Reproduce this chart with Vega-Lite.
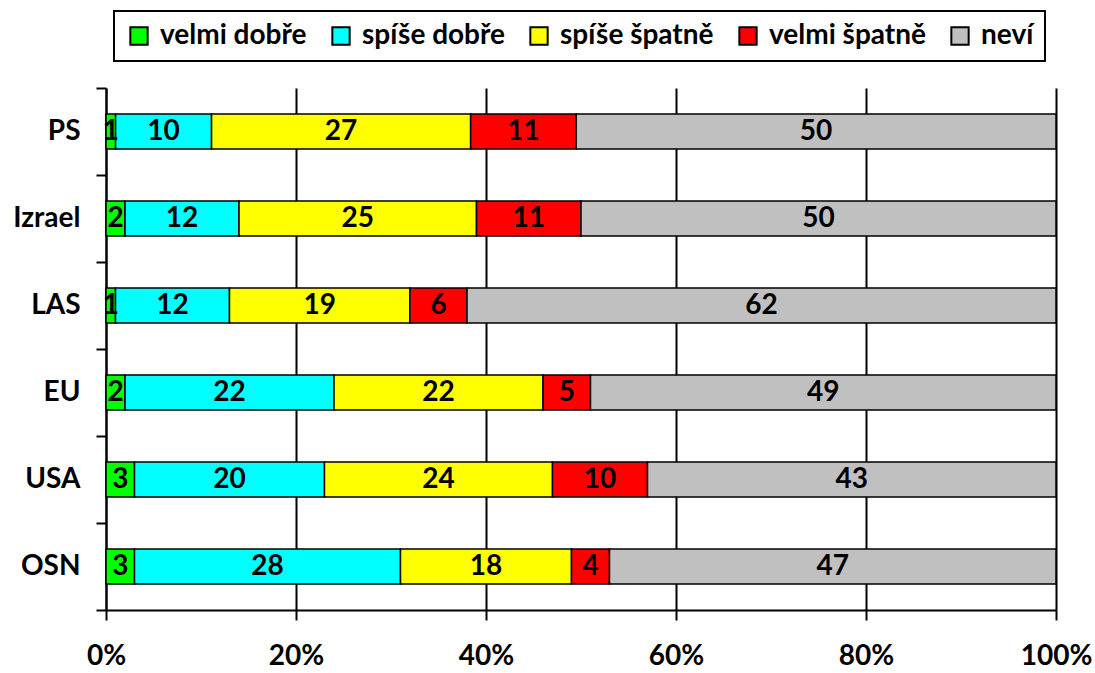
{
  "$schema": "https://vega.github.io/schema/vega-lite/v6.json",
  "width": 950,
  "height": 522,
  "autosize": {"type": "none"},
  "padding": {"left": 106, "top": 88, "right": 39, "bottom": 63},
  "background": "white",
  "config": {
    "view": {"stroke": null},
    "font": "Lato",
    "text": {"font": "Lato"}
  },
  "data": {
    "values": [
      {"inst": "PS", "odpoved": "velmi dobře", "poradi": 1, "pct": 1},
      {"inst": "PS", "odpoved": "spíše dobře", "poradi": 2, "pct": 10},
      {"inst": "PS", "odpoved": "spíše špatně", "poradi": 3, "pct": 27},
      {"inst": "PS", "odpoved": "velmi špatně", "poradi": 4, "pct": 11},
      {"inst": "PS", "odpoved": "neví", "poradi": 5, "pct": 50},
      {"inst": "Izrael", "odpoved": "velmi dobře", "poradi": 1, "pct": 2},
      {"inst": "Izrael", "odpoved": "spíše dobře", "poradi": 2, "pct": 12},
      {"inst": "Izrael", "odpoved": "spíše špatně", "poradi": 3, "pct": 25},
      {"inst": "Izrael", "odpoved": "velmi špatně", "poradi": 4, "pct": 11},
      {"inst": "Izrael", "odpoved": "neví", "poradi": 5, "pct": 50},
      {"inst": "LAS", "odpoved": "velmi dobře", "poradi": 1, "pct": 1},
      {"inst": "LAS", "odpoved": "spíše dobře", "poradi": 2, "pct": 12},
      {"inst": "LAS", "odpoved": "spíše špatně", "poradi": 3, "pct": 19},
      {"inst": "LAS", "odpoved": "velmi špatně", "poradi": 4, "pct": 6},
      {"inst": "LAS", "odpoved": "neví", "poradi": 5, "pct": 62},
      {"inst": "EU", "odpoved": "velmi dobře", "poradi": 1, "pct": 2},
      {"inst": "EU", "odpoved": "spíše dobře", "poradi": 2, "pct": 22},
      {"inst": "EU", "odpoved": "spíše špatně", "poradi": 3, "pct": 22},
      {"inst": "EU", "odpoved": "velmi špatně", "poradi": 4, "pct": 5},
      {"inst": "EU", "odpoved": "neví", "poradi": 5, "pct": 49},
      {"inst": "USA", "odpoved": "velmi dobře", "poradi": 1, "pct": 3},
      {"inst": "USA", "odpoved": "spíše dobře", "poradi": 2, "pct": 20},
      {"inst": "USA", "odpoved": "spíše špatně", "poradi": 3, "pct": 24},
      {"inst": "USA", "odpoved": "velmi špatně", "poradi": 4, "pct": 10},
      {"inst": "USA", "odpoved": "neví", "poradi": 5, "pct": 43},
      {"inst": "OSN", "odpoved": "velmi dobře", "poradi": 1, "pct": 3},
      {"inst": "OSN", "odpoved": "spíše dobře", "poradi": 2, "pct": 28},
      {"inst": "OSN", "odpoved": "spíše špatně", "poradi": 3, "pct": 18},
      {"inst": "OSN", "odpoved": "velmi špatně", "poradi": 4, "pct": 4},
      {"inst": "OSN", "odpoved": "neví", "poradi": 5, "pct": 47}
    ]
  },
  "encoding": {
    "y": {
      "field": "inst",
      "type": "nominal",
      "sort": ["PS", "Izrael", "LAS", "EU", "USA", "OSN"],
      "scale": {"paddingInner": 0, "paddingOuter": 0},
      "axis": {
        "title": null,
        "tickBand": "extent",
        "domainColor": "black",
        "domainWidth": 2,
        "tickColor": "black",
        "tickWidth": 2,
        "tickSize": 10,
        "labelFont": "Lato",
        "labelFontSize": 28,
        "labelFontWeight": "bold",
        "labelColor": "black",
        "labelPadding": 16
      }
    },
    "x": {
      "field": "pct",
      "type": "quantitative",
      "stack": "normalize",
      "scale": {"domain": [0, 1], "nice": false},
      "axis": {
        "title": null,
        "format": ".0%",
        "values": [0, 0.2, 0.4, 0.6, 0.8, 1],
        "grid": true,
        "gridColor": "black",
        "gridWidth": 2,
        "gridOpacity": 1,
        "domainColor": "black",
        "domainWidth": 2,
        "tickColor": "black",
        "tickWidth": 2,
        "tickSize": 10,
        "labelFlush": false,
        "labelFont": "Lato",
        "labelFontSize": 28,
        "labelFontWeight": "bold",
        "labelColor": "black",
        "labelPadding": 22
      }
    },
    "order": {"field": "poradi", "type": "quantitative"}
  },
  "layer": [
    {
      "mark": {"type": "bar", "height": {"band": 0.4}, "stroke": "black", "strokeWidth": 1.5},
      "encoding": {
        "color": {
          "field": "odpoved",
          "type": "nominal",
          "sort": ["velmi dobře", "spíše dobře", "spíše špatně", "velmi špatně", "neví"],
          "scale": {
            "domain": ["velmi dobře", "spíše dobře", "spíše špatně", "velmi špatně", "neví"],
            "range": ["#00FF00", "#00FFFF", "#FFFF00", "#FF0000", "#C0C0C0"]
          },
          "legend": {
            "title": null,
            "orient": "none",
            "legendX": 8,
            "legendY": -77,
            "direction": "horizontal",
            "columns": 5,
            "columnPadding": 20,
            "padding": 11,
            "fillColor": "white",
            "strokeColor": "black",
            "symbolType": "square",
            "symbolSize": 300,
            "symbolStrokeColor": "black",
            "symbolStrokeWidth": 2,
            "symbolOpacity": 1,
            "labelOffset": 7,
            "labelFont": "Lato",
            "labelFontSize": 28,
            "labelFontWeight": "bold",
            "labelColor": "black",
            "labelLimit": 400,
            "encode": {"legend": {"update": {"strokeWidth": {"value": 2}}}}
          }
        }
      }
    },
    {
      "mark": {"type": "text", "fontSize": 28, "fontWeight": "bold", "color": "black", "baseline": "middle", "font": "Lato"},
      "encoding": {
        "x": {"field": "pct", "type": "quantitative", "stack": "normalize", "bandPosition": 0.5},
        "text": {"field": "pct", "type": "quantitative"}
      }
    }
  ]
}
